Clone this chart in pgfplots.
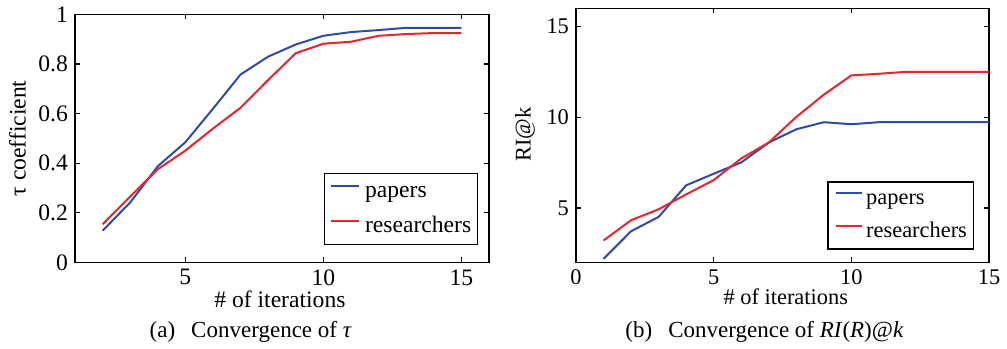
\documentclass[border=0pt]{standalone}
\usepackage{fontspec}
\setmainfont{Liberation Serif}
\usepackage{pgfplots}
\pgfplotsset{compat=1.18}
\definecolor{mblue}{RGB}{45,75,170}
\definecolor{mred}{RGB}{235,35,45}
\begin{document}
\begin{tikzpicture}
\path (0,0) rectangle (503.5pt,172.5pt);
\pgfplotsset{
  every axis/.append style={
    scale only axis,
    anchor=south west,
    axis line style={line width=0.6pt},
    every tick/.style={black,line width=0.6pt},
    major tick length=2.5pt,
    tick align=inside,
    /pgf/number format/assume math mode=true,
    legend cell align=left,
    legend image code/.code={\draw[#1] (0pt,3pt) -- (14pt,3pt);},
  }
}
\begin{axis}[
  at={(37.5pt,42pt)}, width=207pt, height=124pt,
  xmin=1, xmax=16, ymin=0, ymax=1,
  xtick={5,10,15}, ytick={0,0.2,0.4,0.6,0.8,1},
  yticklabels={0,0.2,0.4,0.6,0.8,1},
  tick label style={font=\fontsize{11.8}{13}\selectfont},
  xlabel={\# of iterations}, ylabel={τ coefficient},
  label style={font=\fontsize{11.8}{13}\selectfont},
  xlabel style={at={(axis description cs:0.495,-0.149)}, anchor=center},
  ylabel style={at={(axis description cs:-0.139,0.5)}, anchor=center},
  legend style={at={(0.973,0.0685)}, anchor=south east, draw=black, line width=0.6pt, fill=white,
    font=\fontsize{11.8}{13}\selectfont, inner xsep=3pt, inner ysep=3.5pt, row sep=6.5pt, column sep=2.5pt,
    nodes={inner sep=0pt, text height=8.5pt, text depth=2.5pt}},
]
\addplot[mblue, line width=1pt] coordinates {(2,0.128)(3,0.242)(4,0.388)(5,0.485)(6,0.620)(7,0.758)(8,0.830)(9,0.879)(10,0.914)(11,0.929)(12,0.937)(13,0.946)(14,0.946)(15,0.946)};
\addlegendentry{papers}
\addplot[mred, line width=1pt] coordinates {(2,0.154)(3,0.266)(4,0.376)(5,0.451)(6,0.540)(7,0.624)(8,0.736)(9,0.844)(10,0.882)(11,0.890)(12,0.914)(13,0.921)(14,0.925)(15,0.925)};
\addlegendentry{researchers}
\end{axis}
\begin{axis}[
  at={(288pt,42pt)}, width=206.5pt, height=127pt,
  xmin=0, xmax=15, ymin=2, ymax=16,
  xtick={0,5,10,15}, ytick={5,10,15},
  tick label style={font=\fontsize{11.2}{13}\selectfont},
  xlabel={\# of iterations}, ylabel={RI@k},
  label style={font=\fontsize{11.2}{13}\selectfont},
  xlabel style={at={(axis description cs:0.508,-0.134)}, anchor=center},
  ylabel style={at={(axis description cs:-0.1235,0.504)}, anchor=center},
  legend style={at={(0.964,0.051)}, anchor=south east, draw=black, line width=0.6pt, fill=white,
    font=\fontsize{11.2}{13}\selectfont, inner xsep=3.3pt, inner ysep=3.35pt, row sep=6.2pt, column sep=1.8pt,
    nodes={inner sep=0pt, text height=8pt, text depth=2.3pt}},
  legend image code/.code={\draw[#1] (0pt,3pt) -- (13pt,3pt);},
]
\addplot[mblue, line width=1pt] coordinates {(1,2.20)(2,3.72)(3,4.51)(4,6.25)(5,6.89)(6,7.51)(7,8.61)(8,9.34)(9,9.73)(10,9.62)(11,9.73)(12,9.73)(13,9.73)(14,9.73)(15,9.73)};
\addlegendentry{papers}
\addplot[mred, line width=1pt] coordinates {(1,3.21)(2,4.33)(3,4.93)(4,5.75)(5,6.54)(6,7.73)(7,8.61)(8,10.02)(9,11.25)(10,12.31)(11,12.40)(12,12.51)(13,12.51)(14,12.51)(15,12.51)};
\addlegendentry{researchers}
\end{axis}
\node[font=\fontsize{11.5}{13}\selectfont, anchor=center] at (125.35pt,7.5pt) {(a)\hspace{0.7em}Convergence of \textit{τ}};
\node[font=\fontsize{11.5}{13}\selectfont, anchor=center] at (382.25pt,7.5pt) {(b)\hspace{0.7em}Convergence of \textit{RI}(\textit{R})@\textit{k}};
\end{tikzpicture}
\end{document}
